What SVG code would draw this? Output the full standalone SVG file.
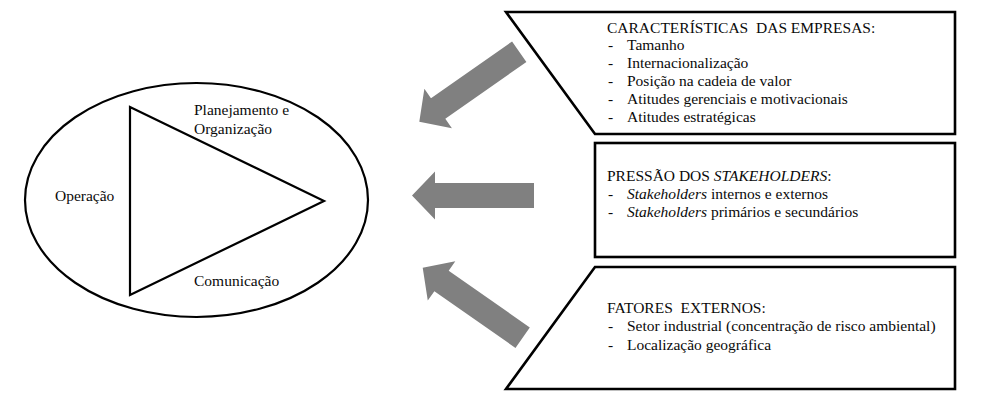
<svg xmlns="http://www.w3.org/2000/svg" width="982" height="402" viewBox="0 0 982 402" font-family="Liberation Serif, Times New Roman, serif">
<style>
text{font-family:"Liberation Serif","Times New Roman",serif;font-size:15.5px;fill:#0a0a0a}
.it{font-style:italic}
.box{fill:#fff;stroke:#000;stroke-width:2.6;stroke-linejoin:miter}
.shape{fill:none;stroke:#000;stroke-width:2.2}
.arrow{fill:#808080;stroke:none}
</style>
<defs>
<polygon id="arr" points="0,0 23,-24 23,-12.5 122,-12.5 122,12.5 23,12.5 23,24"/>
</defs>
<rect width="982" height="402" fill="#fff"/>
<g id="cycle">
<ellipse class="shape" cx="196.5" cy="200" rx="171.5" ry="117"/>
<polygon class="shape" points="130,107 130,295 324,201" stroke-width="2.5"/>
<text x="194" y="115">Planejamento e</text>
<text x="194" y="134">Organização</text>
<text x="55" y="201">Operação</text>
<text x="194" y="286">Comunicação</text>
</g>
<g id="connectors">
<use href="#arr" class="arrow" transform="translate(419.3,121.7) rotate(-35)"/>
<use href="#arr" class="arrow" transform="translate(412,195.5)"/>
<use href="#arr" class="arrow" transform="translate(422.7,267.7) rotate(35)"/>
</g>
<g id="box-caracteristicas">
<polygon class="box" points="506,12 955,12 955,134 595,134"/>
<text x="607" y="32.5" xml:space="preserve">CARACTERÍSTICAS  DAS EMPRESAS:</text>
<text x="608" y="50">-</text><text x="627" y="50">Tamanho</text>
<text x="608" y="68">-</text><text x="627" y="68">Internacionalização</text>
<text x="608" y="86">-</text><text x="627" y="86">Posição na cadeia de valor</text>
<text x="608" y="104">-</text><text x="627" y="104">Atitudes gerenciais e motivacionais</text>
<text x="608" y="122">-</text><text x="627" y="122">Atitudes estratégicas</text>
</g>
<g id="box-stakeholders">
<rect class="box" x="595" y="143" width="360" height="114"/>
<text x="607" y="181">PRESSÃO DOS <tspan class="it">STAKEHOLDERS</tspan>:</text>
<text x="608" y="199">-</text><text x="627" y="199"><tspan class="it">Stakeholders</tspan> internos e externos</text>
<text x="608" y="217">-</text><text x="627" y="217"><tspan class="it">Stakeholders</tspan> primários e secundários</text>
</g>
<g id="box-fatores">
<polygon class="box" points="595,267 955,267 955,389 506,389"/>
<text x="607" y="312.5" xml:space="preserve">FATORES  EXTERNOS:</text>
<text x="608" y="331">-</text><text x="627" y="331">Setor industrial (concentração de risco ambiental)</text>
<text x="608" y="349.5">-</text><text x="627" y="349.5">Localização geográfica</text>
</g>
</svg>
